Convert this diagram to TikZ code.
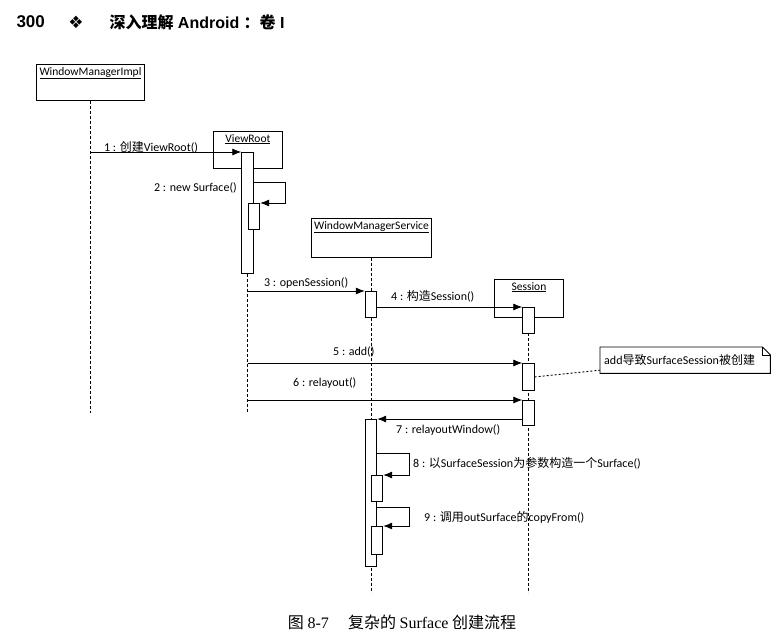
\documentclass[tikz,border=0pt]{standalone}
\usepackage{fontspec}
\setmainfont{Carlito}
\newfontfamily\zh{Noto Sans CJK SC}
\newfontfamily\hdfont{Liberation Sans}
\newfontfamily\capfont{Liberation Serif}
\newfontfamily\symfont{DejaVu Sans}
\newcommand{\cn}[1]{{\zh #1}}
\usetikzlibrary{arrows.meta,positioning}

\begin{document}
\begin{tikzpicture}[x=1pt, y=-1pt,
  head/.style={draw, rectangle, anchor=north west, inner sep=0pt, line width=0.9pt},
  headlbl/.style={font=\fontsize{11.5}{13}\selectfont, inner sep=1pt},
  bar/.style={draw, fill=white, rectangle, anchor=north, minimum width=11.5pt, inner sep=0pt, line width=0.9pt},
  life/.style={dash pattern=on 3pt off 2pt, line width=1pt},
  msg/.style={-{Latex[length=9pt,width=7pt]}, line width=0.8pt},
  lbl/.style={font=\fontsize{12}{14}\selectfont, inner sep=1pt}]
\useasboundingbox (0,0) rectangle (781,644);

% page header
\node[anchor=west, font=\hdfont\bfseries\fontsize{17}{19}\selectfont] (page) at (13,22) {300};
\node[font=\symfont\fontsize{17}{19}\selectfont] (orn) at (76,22) {❖};
\node[anchor=west, font=\hdfont\bfseries\fontsize{16}{18}\selectfont] (book) at (106,22) {\cn{\bfseries 深入理解} Android \cn{\bfseries ：卷} I};

% objects
\node[head, minimum width=108, minimum height=36] (wmi) at (36,64) {};
\node[head, minimum width=69, minimum height=37] (vr) at (213,131) {};
\node[head, minimum width=120, minimum height=39] (wms) at (311,218) {};
\node[head, minimum width=69, minimum height=38] (ses) at (494,279) {};
\node[headlbl, below=2pt of wmi.north] {\underline{WindowManagerImpl}};
\node[headlbl, below=2pt of vr.north] {\underline{ViewRoot}};
\node[headlbl, below=2pt of wms.north] {\underline{WindowManagerService}};
\node[headlbl, below=2pt of ses.north] {\underline{Session}};

% lifelines
\draw[life] (wmi.south) -- ++(0,312);
\draw[life] (vr.south) -- ++(0,244);
\draw[life] (wms.south) -- ++(0,335);
\draw[life] (ses.south) -- ++(0,275);

% activations
\node[bar, minimum height=121] (vrbar) at (247.5,152) {};
\node[bar, minimum height=26] (sub2) at (254,203) {};
\node[bar, minimum height=26] (wms1) at (371,291) {};
\node[bar, minimum height=147] (wms2) at (371,419) {};
\node[bar, minimum height=26] (sub8) at (377,475) {};
\node[bar, minimum height=28] (sub9) at (377,526) {};
\node[bar, minimum height=26] (ses1) at (528.5,307) {};
\node[bar, minimum height=27] (ses2) at (528.5,363) {};
\node[bar, minimum height=25] (ses3) at (528.5,400) {};

% messages
\draw[msg] (wmi.south |- vrbar.north west) -- (vrbar.north west);
\draw[msg] ([yshift=-30pt]vrbar.north east) -- ++(32,0) |- (sub2.north east);
\draw[msg] (vr.south |- wms1.north west) -- (wms1.north west);
\draw[msg] (wms1.east |- ses1.north west) -- (ses1.north west);
\draw[msg] (vr.south |- ses2.north west) -- (ses2.north west);
\draw[msg] (vr.south |- ses3.north west) -- (ses3.north west);
\draw[msg] (ses3.west |- wms2.north east) -- (wms2.north east);
\draw[msg] ([yshift=-34pt]wms2.north east) -- ++(32,0) |- (sub8.north east);
\draw[msg] ([yshift=-88pt]wms2.north east) -- ++(32,0) |- (sub9.north east);

\node[lbl, anchor=west] (m1) at (103,147) {1 : \cn{创建}ViewRoot()};
\node[lbl, anchor=east] (m2) at (238,188) {2 : new Surface()};
\node[lbl, anchor=west] (m3) at (263,283) {3 : openSession()};
\node[lbl, anchor=west] (m4) at (390,296) {4 : \cn{构造}Session()};
\node[lbl, anchor=west] (m5) at (332,352) {5 : add()};
\node[lbl, anchor=west] (m6) at (292,383) {6 : relayout()};
\node[lbl, anchor=west] (m7) at (395,430) {7 : relayoutWindow()};
\node[lbl, anchor=west] (m8) at (412,463) {8 : \cn{以}SurfaceSession\cn{为参数构造一个}Surface()};
\node[lbl, anchor=west] (m9) at (423,517) {9 : \cn{调用}outSurface\cn{的}copyFrom()};

% note
\node[lbl, anchor=north west, text width=162pt, minimum height=26, inner xsep=4pt, align=left] (note) at (600,347) {add\cn{导致}SurfaceSession\cn{被创建}};
\draw[line width=0.9pt] (note.north west) -- ([xshift=-8pt]note.north east) -- ([yshift=-8pt]note.north east) -- (note.south east) -- (note.south west) -- cycle;
\draw[line width=0.6pt] ([xshift=-8pt]note.north east) -- ([xshift=-8pt, yshift=-8pt]note.north east) -- ([yshift=-8pt]note.north east);
\draw[dash pattern=on 2pt off 2pt, line width=0.9pt] (ses2.east) -- ([yshift=-10pt]note.west);

% caption
\node[font=\fontsize{16}{18}\selectfont] (cap) at (402,622) {\cn{图} {\capfont 8-7}\hspace{1.2em}\cn{复杂的} {\capfont Surface} \cn{创建流程}};
\end{tikzpicture}
\end{document}
